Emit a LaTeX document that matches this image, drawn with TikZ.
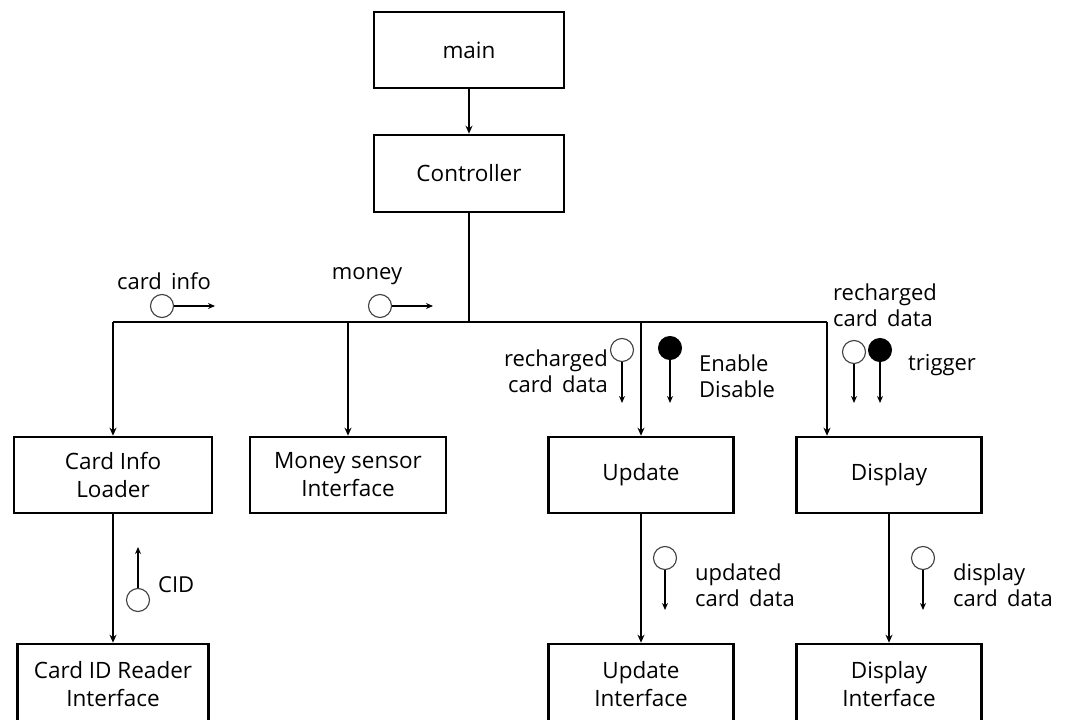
\documentclass[tikz,border=0pt]{standalone}
\usepackage{fontspec}
\setmainfont{Open Sans}
\newfontfamily\lblfont{Open Sans}[WordSpace=1.6]
\usetikzlibrary{arrows.meta}
\begin{document}
\begin{tikzpicture}[x=1pt,y=-1pt,
  box/.style={draw, line width=2.6pt, minimum height=76pt, align=center, font=\fontsize{22.5}{28}\selectfont, inner sep=0pt},
  conn/.style={line width=2.1pt, -{Stealth[length=8pt,width=7pt]}},
  busline/.style={line width=2.6pt},
  dflow/.style={draw=black!75, circle, line width=1.1pt, minimum size=23pt, inner sep=0pt, fill=white},
  cflow/.style={draw, circle, line width=1pt, minimum size=23pt, inner sep=0pt, fill=black},
  farrow/.style={line width=1.8pt, -{Stealth[length=7pt,width=6pt]}},
  lbl/.style={font=\lblfont\fontsize{22}{26}\selectfont, inner sep=0pt}]
\useasboundingbox (0,0) rectangle (1088,720);
\clip (0,0) rectangle (1088,720);
% boxes
\node[box, minimum width=190pt] (main) at (469,50) {main};
\node[box, minimum width=190pt, minimum height=77pt] (ctrl) at (469,173.5) {Controller};
\node[box, minimum width=198pt] (cil) at (113,475) {Card Info\\Loader};
\node[box, minimum width=196pt] (money) at (348,475) {Money sensor\\Interface};
\node[box, minimum width=185pt] (upd) at (641,475) {Update};
\node[box, minimum width=185pt] (disp) at (889,475) {Display};
\node[box, minimum width=191pt, minimum height=80pt] (cidr) at (113,684) {Card ID Reader\\Interface};
\node[box, minimum width=185pt, minimum height=80pt] (updi) at (641,684) {Update\\Interface};
\node[box, minimum width=185pt, minimum height=80pt] (dispi) at (889,684) {Display\\Interface};
% bus
\coordinate (busL) at (113,322);
\coordinate (busR) at (827,322);
\draw[conn] (main.south) -- (ctrl.north);
\draw[busline] (ctrl.south) -- (ctrl.south |- busL);
\draw[busline] (busL) -- (busR);
\draw[conn] (busL) -- (cil.north);
\draw[conn] (money.north |- busL) -- (money.north);
\draw[conn] (upd.north |- busL) -- (upd.north);
\draw[conn] (busR) -- (busR |- disp.north);
\draw[conn] (cil.south) -- (cil.south |- cidr.north);
\draw[conn] (upd.south) -- (upd.south |- updi.north);
\draw[conn] (disp.south) -- (disp.south |- dispi.north);
% flows
\node[dflow] (f1) at (162,306) {};
\coordinate (f1e) at (215,306);
\draw[farrow] (f1.east) -- (f1e);
\node[lbl] (l1) at (164,281) {card info};

\node[dflow] (f2) at (380,306) {};
\coordinate (f2e) at (433,306);
\draw[farrow] (f2.east) -- (f2e);
\node[lbl] (l2) at (367,276) {money};

\node[dflow] (f3) at (622,350) {};
\coordinate (f3e) at (622,403);
\draw[farrow] (f3.south) -- (f3e);
\node[lbl, anchor=east, align=right] (l3) at (608,371) {recharged\\card data};

\node[cflow] (f4) at (670,348) {};
\coordinate (f4e) at (670,403);
\draw[farrow] (f4.south) -- (f4e);
\node[lbl, anchor=west, align=left] (l4) at (699,376) {Enable\\Disable};

\node[dflow] (f5) at (854,352) {};
\coordinate (f5e) at (854,403);
\draw[farrow] (f5.south) -- (f5e);
\node[cflow] (f6) at (880,350) {};
\coordinate (f6e) at (880,403);
\draw[farrow] (f6.south) -- (f6e);
\node[lbl, anchor=west, align=left] (l5) at (833,305) {recharged\\card data};
\node[lbl, anchor=west] (l6) at (908,365) {trigger};

\node[dflow] (f7) at (138,600) {};
\coordinate (f7e) at (138,547);
\draw[farrow] (f7.north) -- (f7e);
\node[lbl, anchor=west] (l7) at (158,585) {CID};

\node[dflow] (f8) at (665,558) {};
\coordinate (f8e) at (665,610);
\draw[farrow] (f8.south) -- (f8e);
\node[lbl, anchor=west, align=left] (l8) at (695,585) {updated\\card data};

\node[dflow] (f9) at (923,558) {};
\coordinate (f9e) at (923,610);
\draw[farrow] (f9.south) -- (f9e);
\node[lbl, anchor=west, align=left] (l9) at (953,585) {display\\card data};
\end{tikzpicture}
\end{document}
